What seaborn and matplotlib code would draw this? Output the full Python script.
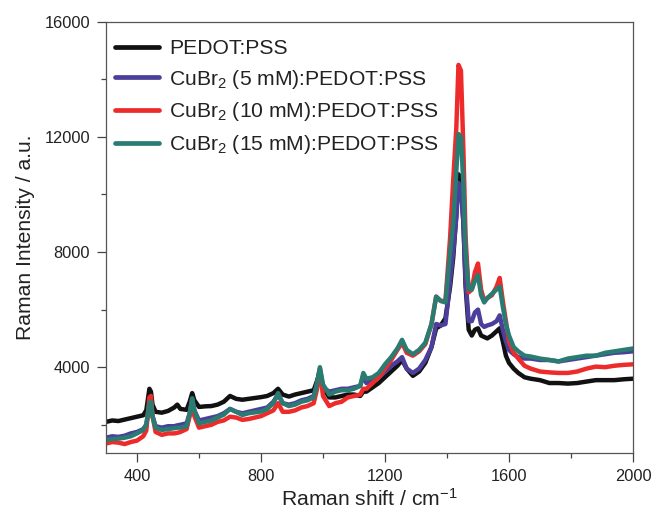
import numpy as np
import pandas as pd
import matplotlib
matplotlib.use("Agg")
import matplotlib.pyplot as plt
import seaborn as sns
from matplotlib.ticker import MultipleLocator

# ---------------- data ----------------
shift = [300, 320, 340, 360, 380, 400, 420, 430, 440, 445, 450, 460, 480, 500, 520, 530, 540, 560, 570, 578,
         585, 600, 620, 640, 660, 680, 700, 720, 740, 760, 780, 800, 820, 840, 855, 870, 890, 910, 930, 950,
         970, 980, 990, 1000, 1020, 1040, 1060, 1080, 1100, 1120, 1130, 1140, 1160, 1180, 1200, 1220, 1240, 1255, 1270, 1290,
         1310, 1330, 1350, 1365, 1380, 1395, 1410, 1420, 1430, 1437, 1445, 1453, 1460, 1470, 1480, 1490, 1500, 1510, 1520, 1530,
         1545, 1560, 1570, 1580, 1590, 1600, 1615, 1630, 1650, 1670, 1700, 1730, 1760, 1790, 1820, 1850, 1880, 1910, 1940, 1970,
         2000]

pedot = [2100, 2150, 2130, 2180, 2230, 2280, 2330, 2500, 3250, 3150, 2700, 2450, 2420, 2480, 2600, 2700, 2550, 2520, 2800, 3100,
         2850, 2620, 2640, 2650, 2700, 2800, 3000, 2900, 2870, 2900, 2930, 2960, 3000, 3100, 3250, 3050, 2980, 3050, 3100, 3150,
         3200, 3500, 3850, 3300, 2950, 2950, 3000, 3050, 3050, 3000, 3150, 3150, 3300, 3450, 3650, 3850, 4050, 4250, 3950, 3700,
         3850, 4150, 4700, 5350, 5450, 5700, 6800, 7800, 9300, 10700, 10400, 9000, 6800, 5300, 5100, 5300, 5350, 5100, 5050, 5000,
         5100, 5250, 5350, 4900, 4400, 4150, 3950, 3800, 3650, 3600, 3550, 3450, 3450, 3430, 3450, 3500, 3550, 3550, 3550, 3580,
         3600]

cu5 = [1550, 1600, 1580, 1620, 1700, 1750, 1850, 2000, 2700, 2800, 2300, 1950, 1900, 1950, 1950, 1980, 2000, 2050, 2400, 2900,
       2500, 2150, 2200, 2250, 2300, 2400, 2550, 2450, 2400, 2450, 2500, 2550, 2600, 2800, 3050, 2750, 2700, 2750, 2850, 2900,
       3000, 3400, 3950, 3300, 3150, 3200, 3250, 3250, 3300, 3350, 3700, 3450, 3550, 3650, 3850, 4050, 4200, 4350, 3950, 3800,
       3950, 4250, 4700, 5500, 5450, 5500, 7000, 8000, 9200, 10400, 10200, 9000, 7000, 5600, 5600, 5900, 6000, 5500, 5400, 5450,
       5500, 5600, 5800, 5300, 4900, 4600, 4450, 4350, 4300, 4300, 4250, 4250, 4200, 4250, 4300, 4350, 4400, 4450, 4500, 4520,
       4550]

cu10 = [1350, 1400, 1380, 1330, 1400, 1450, 1600, 1800, 2950, 3000, 2300, 1750, 1650, 1700, 1700, 1720, 1750, 1850, 2300, 2850,
        2300, 1900, 1950, 2000, 2100, 2150, 2280, 2250, 2170, 2200, 2250, 2300, 2400, 2500, 2750, 2450, 2450, 2500, 2600, 2650,
        2750, 3200, 3900, 3000, 2650, 2750, 2800, 2950, 3000, 3050, 3250, 3250, 3450, 3650, 3950, 4250, 4600, 4850, 4500, 4400,
        4550, 4800, 5500, 6450, 6300, 6300, 8500, 10500, 12300, 14500, 14300, 11500, 8500, 6600, 6700, 7300, 7600, 6700, 6300, 6400,
        6500, 6800, 7100, 6300, 5600, 4900, 4500, 4300, 4050, 3950, 3850, 3820, 3800, 3800, 3850, 3950, 4020, 4000, 4050, 4080,
        4100]

cu15 = [1480, 1500, 1520, 1550, 1600, 1700, 1820, 2000, 2750, 2800, 2300, 1900, 1820, 1850, 1880, 1900, 1900, 1950, 2400, 2920,
        2500, 2050, 2100, 2150, 2250, 2350, 2550, 2450, 2340, 2400, 2430, 2460, 2550, 2750, 3100, 2750, 2650, 2700, 2800, 2850,
        2950, 3400, 4000, 3400, 3050, 3150, 3200, 3200, 3250, 3350, 3800, 3600, 3650, 3800, 4100, 4350, 4650, 4950, 4600, 4450,
        4600, 4850, 5500, 6450, 6300, 6250, 8000, 9000, 10800, 12100, 12000, 10300, 8000, 6700, 6700, 7000, 7200, 6500, 6250, 6400,
        6550, 6700, 6800, 6100, 5500, 5100, 4700, 4550, 4400, 4370, 4300, 4250, 4200, 4300, 4350, 4400, 4400, 4500, 4550, 4600,
        4650]

labels = ["PEDOT:PSS",
          "CuBr$_2$ (5 mM):PEDOT:PSS",
          "CuBr$_2$ (10 mM):PEDOT:PSS",
          "CuBr$_2$ (15 mM):PEDOT:PSS"]
series = [pedot, cu5, cu10, cu15]
colors = ["#111111", "#4b3f9b", "#ee2b2b", "#2a7c73"]

x_ticks = [400, 800, 1200, 1600, 2000]
y_ticks = [4000, 8000, 12000, 16000]

# ---------------- plot ----------------
sns.set_style("ticks")
plt.rcParams["font.family"] = ["Liberation Sans", "DejaVu Sans"]
plt.rcParams["mathtext.default"] = "regular"

fig = plt.figure(figsize=(6.55, 5.19), dpi=100)
ax = fig.add_axes([106 / 655, 1 - 452.7 / 519, (633 - 106) / 655, (452.7 - 21.7) / 519])

for lab, ys, col in zip(labels, series, colors):
    df = pd.DataFrame({"shift": shift, "intensity": ys})
    sns.lineplot(data=df, x="shift", y="intensity", ax=ax, color=col, lw=3.2,
                 label=lab, sort=False, estimator=None)

ax.set_xlim(300, 2000)
ax.set_ylim(1030, 16000)
ax.set_xticks(x_ticks)
ax.set_yticks(y_ticks)
ax.xaxis.set_minor_locator(MultipleLocator(200))
ax.yaxis.set_minor_locator(MultipleLocator(2000))
ax.tick_params(which="major", direction="out", length=6.5, width=0.9, color="#444444",
               labelsize=11.8, labelcolor="#222222", pad=5)
ax.tick_params(which="minor", direction="out", length=3.5, width=0.9, color="#444444")
ax.tick_params(top=False, right=False, which="both")
for s in ax.spines.values():
    s.set_color("#555555")
    s.set_linewidth(0.9)

ax.set_xlabel("Raman shift / cm$^{-1}$", fontsize=15.2, color="#222222", labelpad=3)
ax.set_ylabel("Raman Intensity / a.u.", fontsize=15.2, color="#222222", labelpad=7)

leg = ax.legend(loc="upper left", bbox_to_anchor=(0.017, 0.96), frameon=False,
                fontsize=15.2, handlelength=2.1, handletextpad=0.47, labelspacing=0.46,
                borderpad=0, borderaxespad=0)
for h in leg.get_lines():
    h.set_linewidth(3.4)
for t in leg.get_texts():
    t.set_color("#222222")

fig.savefig("out.png", dpi=100)
